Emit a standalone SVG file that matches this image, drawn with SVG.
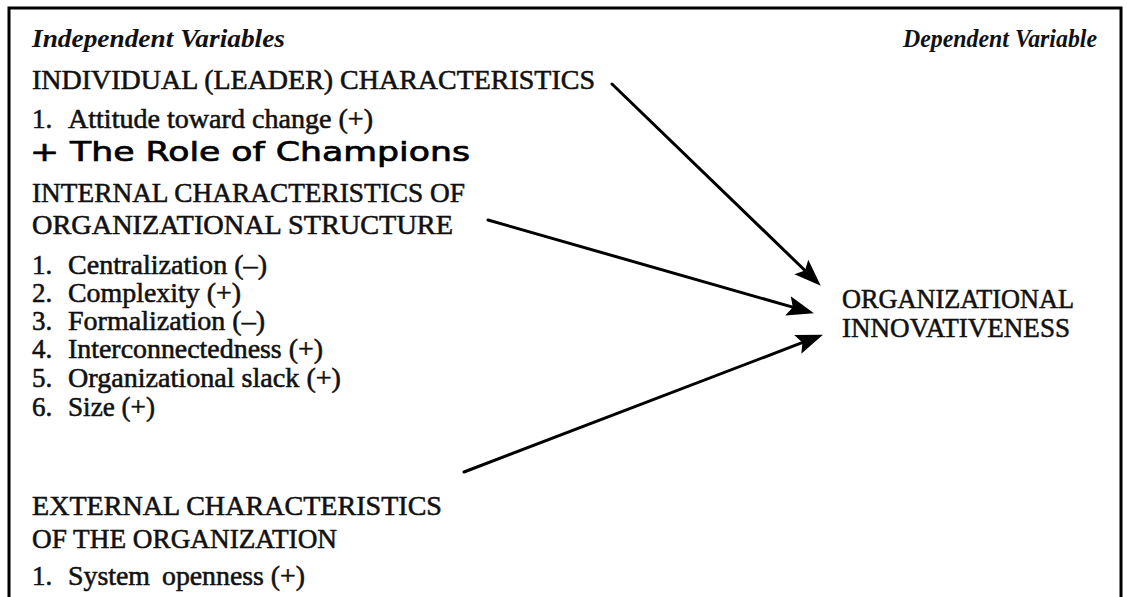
<svg xmlns="http://www.w3.org/2000/svg" width="1127" height="597" viewBox="0 0 1127 597">
  <style>
    .bg { fill: #ffffff; }
    .frame { fill: none; stroke: #000; stroke-width: 3; }
    .t { font-family: "Liberation Serif", "Times New Roman", serif; font-size: 27px; fill: #111; stroke: #111; stroke-width: 0.55; }
    .hd { font-family: "Liberation Serif", "Times New Roman", serif; font-size: 25px; font-style: italic; font-weight: bold; fill: #111; }
    .hand { font-family: "DejaVu Sans", "Noto Sans", sans-serif; font-size: 27px; fill: #000; stroke: #000; stroke-width: 0.7; }
    .link { stroke: #000; stroke-width: 3; fill: none; stroke-linecap: round; }
  </style>
  <defs>
    <marker id="head" markerUnits="userSpaceOnUse" markerWidth="30" markerHeight="22" refX="13" refY="10" orient="auto">
      <path d="M0,0 L27,10 L0,20 L5,10 Z" fill="#000"/>
    </marker>
  </defs>

  <rect class="bg" x="0" y="0" width="1127" height="597"/>
  <!-- outer frame, open at the bottom edge -->
  <rect class="frame" x="9" y="8" width="1112" height="620"/>

  <g id="headers">
    <text class="hd" x="32" y="47" textLength="253" lengthAdjust="spacingAndGlyphs">Independent Variables</text>
    <text class="hd" x="903" y="47" textLength="194" lengthAdjust="spacingAndGlyphs">Dependent Variable</text>
  </g>

  <g id="individual">
    <text class="t" x="32" y="89" textLength="563" lengthAdjust="spacingAndGlyphs">INDIVIDUAL (LEADER) CHARACTERISTICS</text>
    <text class="t" x="32" y="128">1.</text>
    <text class="t" x="68" y="128" textLength="305" lengthAdjust="spacingAndGlyphs">Attitude toward change (+)</text>
    <text class="hand" x="30" y="161" textLength="440" lengthAdjust="spacingAndGlyphs">+ The Role of Champions</text>
  </g>

  <g id="internal">
    <text class="t" x="32" y="202" textLength="433" lengthAdjust="spacingAndGlyphs">INTERNAL CHARACTERISTICS OF</text>
    <text class="t" x="32" y="234" textLength="421" lengthAdjust="spacingAndGlyphs">ORGANIZATIONAL STRUCTURE</text>
    <text class="t" x="32" y="274">1.</text>
    <text class="t" x="68" y="274" textLength="199" lengthAdjust="spacingAndGlyphs">Centralization (–)</text>
    <text class="t" x="32" y="302">2.</text>
    <text class="t" x="68" y="302" textLength="173" lengthAdjust="spacingAndGlyphs">Complexity (+)</text>
    <text class="t" x="32" y="330">3.</text>
    <text class="t" x="68" y="330" textLength="197" lengthAdjust="spacingAndGlyphs">Formalization (–)</text>
    <text class="t" x="32" y="358">4.</text>
    <text class="t" x="68" y="358" textLength="255" lengthAdjust="spacingAndGlyphs">Interconnectedness (+)</text>
    <text class="t" x="32" y="387">5.</text>
    <text class="t" x="68" y="387" textLength="273" lengthAdjust="spacingAndGlyphs">Organizational slack (+)</text>
    <text class="t" x="32" y="416">6.</text>
    <text class="t" x="68" y="416" textLength="87" lengthAdjust="spacingAndGlyphs">Size (+)</text>
  </g>

  <g id="external">
    <text class="t" x="32" y="515" textLength="410" lengthAdjust="spacingAndGlyphs">EXTERNAL CHARACTERISTICS</text>
    <text class="t" x="32" y="548" textLength="305" lengthAdjust="spacingAndGlyphs">OF THE ORGANIZATION</text>
    <text class="t" x="32" y="585">1.</text>
    <text class="t" x="68" y="585" textLength="82" lengthAdjust="spacingAndGlyphs">System</text>
    <text class="t" x="162" y="585" textLength="143" lengthAdjust="spacingAndGlyphs">openness (+)</text>
  </g>

  <g id="innovativeness">
    <text class="t" x="842" y="308" textLength="232" lengthAdjust="spacingAndGlyphs">ORGANIZATIONAL</text>
    <text class="t" x="842" y="337" textLength="228" lengthAdjust="spacingAndGlyphs">INNOVATIVENESS</text>
  </g>

  <g id="connectors">
    <line class="link" x1="612" y1="84" x2="810.7" y2="276" marker-end="url(#head)"/>
    <line class="link" x1="488" y1="220" x2="800.5" y2="309.4" marker-end="url(#head)"/>
    <line class="link" x1="464" y1="472" x2="809.9" y2="339.7" marker-end="url(#head)"/>
  </g>
</svg>
